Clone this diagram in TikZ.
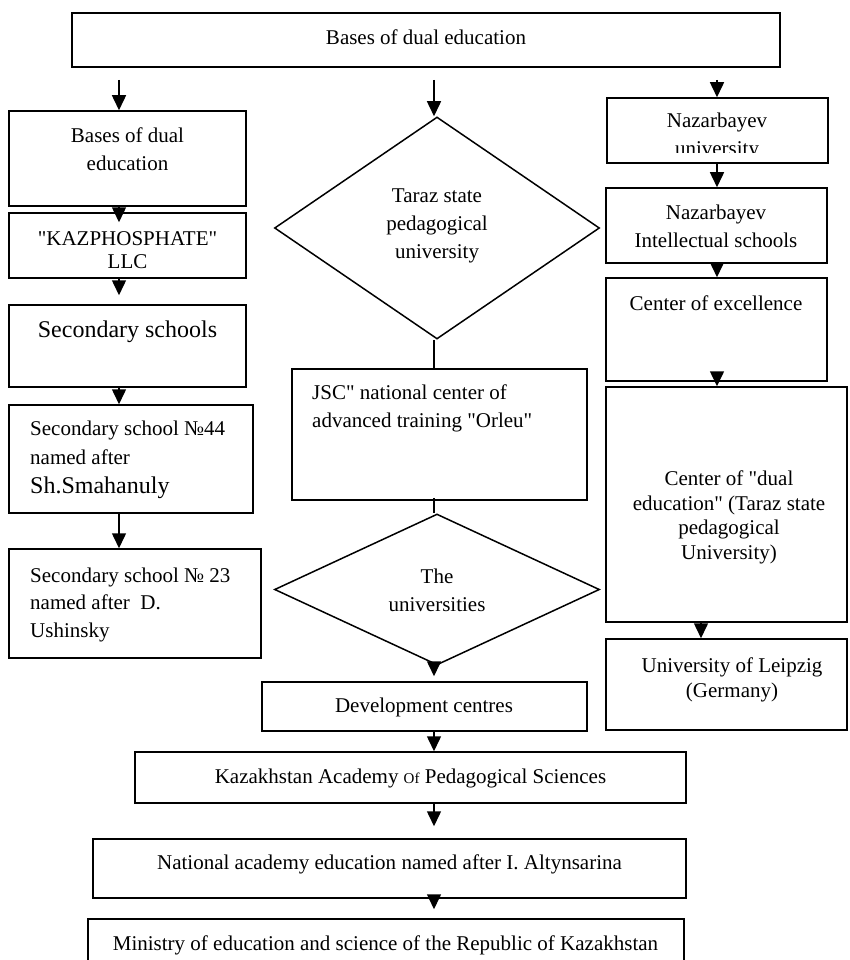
\documentclass[tikz,border=0pt]{standalone}
\usepackage{fontspec}
\setmainfont{Liberation Serif}
\usetikzlibrary{shapes.geometric,arrows.meta}
\newcommand{\qt}{\textquotedbl}

\begin{document}
\begin{tikzpicture}[x=1pt,y=-1pt]
		\tikzset{box/.style = {shape=rectangle, draw, line width=1.5pt, inner sep=0pt},
			rhomb/.style = {shape=diamond, draw, line width=1.5pt, inner sep=0pt},
			txt/.style = {align=center, inner sep=0pt, font=\fontsize{21}{28}\selectfont},
			link/.style = {line width=1.5pt},
			arr/.style = {line width=1.5pt, -{Triangle[width=14pt,length=15pt]}}}

		\useasboundingbox (0,0) rectangle (849,960);

		\node[box, minimum width=708pt, minimum height=54pt] (top) at (426,40) {};
		\node[txt] (top_t) at (426,37) {Bases of dual education};

		\coordinate (col_L) at (119,80);
		\coordinate (col_M) at (434,80);
		\coordinate (col_R) at (717,80);

		\node[box, minimum width=237pt, minimum height=95pt] (L_1) at (127.5,158.5) {};
		\node[txt] (L_1t) at (127.5,149) {Bases of dual\\education};
		\node[box, minimum width=237pt, minimum height=65pt] (L_2) at (127.5,245.5) {};
		\node[txt, font=\fontsize{21}{23}\selectfont] (L_2t) at (127.5,250.5) {\qt KAZPHOSPHATE\qt\\LLC};
		\node[box, minimum width=237pt, minimum height=82pt] (L_3) at (127.5,346) {};
		\node[txt, font=\fontsize{24}{30}\selectfont] (L_3t) at (127.5,332) {Secondary schools};
		\node[box, minimum width=244pt, minimum height=108pt] (L_4) at (131,459) {};
		\node[txt, align=left, anchor=west, font=\fontsize{21}{29}\selectfont] (L_4t) at (30,460) {Secondary school №44\\named after\\{\fontsize{24}{31}\selectfont Sh.Smahanuly}};
		\node[box, minimum width=252pt, minimum height=109pt] (L_5) at (135,603.5) {};
		\node[txt, align=left, anchor=west, font=\fontsize{21}{27.5}\selectfont] (L_5t) at (30,604.5) {Secondary school № 23\\named after~ D.\\Ushinsky};

		\node[rhomb, minimum width=325pt, minimum height=222pt] (D_1) at (437,228) {};
		\node[txt] (D_1t) at (437,225.5) {Taraz state\\pedagogical\\university};
		\node[box, minimum width=295pt, minimum height=131pt] (M_1) at (439.5,434.5) {};
		\node[txt, align=left, anchor=west] (M_1t) at (312,408.5) {JSC\qt{} national center of\\advanced training \qt Orleu\qt};
		\node[rhomb, minimum width=325pt, minimum height=151pt] (D_2) at (437,589.5) {};
		\node[txt] (D_2t) at (437,590) {The\\universities};
		\node[box, minimum width=325pt, minimum height=49pt] (M_2) at (424.5,706.5) {};
		\node[txt] (M_2t) at (424,707) {Development centres};

		\node[box, minimum width=551pt, minimum height=51pt] (B_1) at (410.5,777.5) {};
		\node[txt] (B_1t) at (410.5,778) {Kazakhstan Academy {\fontsize{15}{15}\selectfont Of} Pedagogical Sciences};
		\node[box, minimum width=593pt, minimum height=59pt] (B_2) at (389.5,868.5) {};
		\node[txt] (B_2t) at (389.5,864) {National academy education named after I. Altynsarina};
		\node[box, minimum width=596pt, minimum height=49pt] (B_3) at (386,943.5) {};
		\node[txt] (B_3t) at (385.5,945) {Ministry of education and science of the Republic of Kazakhstan};

		\node[box, minimum width=221pt, minimum height=65pt] (R_1) at (717.5,130.5) {};
		\begin{scope}
			\clip (R_1.north west) rectangle (828,153);
			\node[txt] (R_1t) at (717,136) {Nazarbayev\\university};
		\end{scope}
		\node[box, minimum width=221pt, minimum height=75pt] (R_2) at (716.5,225.5) {};
		\node[txt] (R_2t) at (716,226) {Nazarbayev\\Intellectual schools};
		\node[box, minimum width=221pt, minimum height=103pt] (R_3) at (716.5,329.5) {};
		\node[txt] (R_3t) at (716,303) {Center of excellence};
		\node[box, minimum width=241pt, minimum height=235pt] (R_4) at (726.5,504.5) {};
		\node[txt, font=\fontsize{21}{24.5}\selectfont] (R_4t) at (729,517.5) {Center of \qt dual\\education\qt{} (Taraz state\\pedagogical\\University)};
		\node[box, minimum width=241pt, minimum height=91pt] (R_5) at (726.5,684.5) {};
		\node[txt, font=\fontsize{21}{25}\selectfont] (R_5t) at (732,679.5) {University of Leipzig\\(Germany)};



		\draw[arr] (col_L) -- (col_L |- L_1.north);
		\draw[arr, shorten >=-10pt] (col_L |- L_1.south) -- (col_L |- L_2.north);
		\draw[arr, shorten >=9pt] (col_L |- L_2.south) -- (col_L |- L_3.north);
		\draw[arr] (col_L |- L_3.south) -- (col_L |- L_4.north);
		\draw[arr] (col_L |- L_4.south) -- (col_L |- L_5.north);

		\draw[arr] (col_M) -- (col_M |- D_1.north);
		\draw[link] (col_M |- D_1.south) -- (col_M |- M_1.north);
		\draw[link] ([yshift=3pt]col_M |- M_1.south) -- (col_M |- D_2.north);
		\draw[arr, shorten >=5pt] (col_M |- D_2.south) -- (col_M |- M_2.north);
		\draw[arr] (col_M |- M_2.south) -- (col_M |- B_1.north);
		\draw[arr, shorten >=12pt] (col_M |- B_1.south) -- (col_M |- B_2.north);
		\draw[arr, shorten >=9pt] (col_M |- B_2.south) -- (col_M |- B_3.north);

		\draw[arr] (col_R) -- (col_R |- R_1.north);
		\draw[arr] (col_R |- R_1.south) -- (col_R |- R_2.north);
		\draw[arr] (col_R |- R_2.south) -- (col_R |- R_3.north);
		\draw[arr] (col_R |- R_3.south) -- (col_R |- R_4.north);
		\draw[arr] ([xshift=-25.5pt]R_4.south) -- ([xshift=-25.5pt]R_5.north);

	\end{tikzpicture}
\end{document}
